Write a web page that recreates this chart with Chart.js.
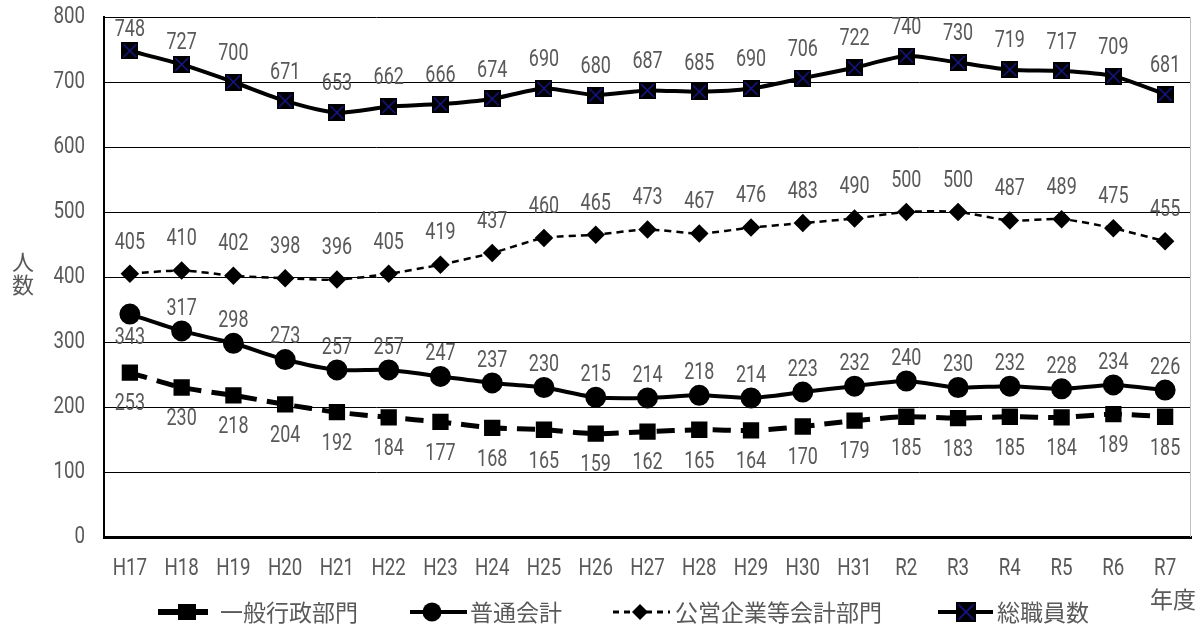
<!DOCTYPE html>
<html>
<head>
<meta charset="utf-8">
<script src="https://cdn.jsdelivr.net/npm/chart.js@4/dist/chart.umd.min.js"></script>
<style>
  html, body { margin: 0; padding: 0; background: #fff; }
  #wrap { width: 1204px; height: 628px; position: relative; }
</style>
</head>
<body>
<div id="wrap"><canvas id="chartArea" width="1204" height="628"></canvas></div>
<script>
var years = ['H17','H18','H19','H20','H21','H22','H23','H24','H25','H26','H27','H28','H29','H30','H31','R2','R3','R4','R5','R6','R7']
var ippan = [253,230,218,204,192,184,177,168,165,159,162,165,164,170,179,185,183,185,184,189,185]
var futsu = [343,317,298,273,257,257,247,237,230,215,214,218,214,223,232,240,230,232,228,234,226]
var koei = [405,410,402,398,396,405,419,437,460,465,473,467,476,483,490,500,500,487,489,475,455]
var total = [748,727,700,671,653,662,666,674,690,680,687,685,690,706,722,740,730,719,717,709,681]
var seriesNames = ['一般行政部門','普通会計','公営企業等会計部門','総職員数']
var yTicks = [0,100,200,300,400,500,600,700,800]

var jpFont = '"Noto Sans CJK JP", sans-serif'
var grey = '#595959'

// narrow text: no condensed font here, so squeeze Roboto sideways
function narrowText(ctx, text, x, y, size, align){
  ctx.save()
  ctx.font = size + 'px Roboto, sans-serif'
  ctx.fillStyle = grey
  ctx.textBaseline = 'middle'
  ctx.textAlign = align || 'center'
  ctx.translate(x, y)
  ctx.scale(0.78, 1)
  ctx.fillText(text, 0, 0)
  ctx.restore()
}

// square with navy cross used for 総職員数
function crossBox(size){
  var c = document.createElement('canvas')
  c.width = size; c.height = size
  var g = c.getContext('2d')
  g.fillStyle = '#000'
  g.fillRect(0, 0, size, size)
  g.strokeStyle = '#1a1a9a'
  g.lineWidth = 1.3
  g.beginPath()
  g.moveTo(2, 2); g.lineTo(size-2, size-2)
  g.moveTo(size-2, 2); g.lineTo(2, size-2)
  g.stroke()
  return c
}
var boxImg = crossBox(17)

// label offsets (px from point) per dataset
var labelOffsets = [32, -22, -31, -28]

var labelPlugin = {
  id: 'valueLabels',
  afterDatasetsDraw: function(chart){
    var ctx = chart.ctx
    chart.data.datasets.forEach(function(ds, di){
      var meta = chart.getDatasetMeta(di)
      meta.data.forEach(function(pt, i){
        var off = labelOffsets[di]
        if(di == 1 && i == 0) off = 24
        if(di == 3 && i < 2) off = -21
        narrowText(ctx, ds.data[i], pt.x, pt.y + off, 23)
      })
    })
  }
}

var framePlugin = {
  id: 'frameExtras',
  afterDraw: function(chart){
    var ctx = chart.ctx
    var a = chart.chartArea
    ctx.save()
    ctx.strokeStyle = '#bfbfbf'
    ctx.lineWidth = 1
    ctx.beginPath()
    ctx.moveTo(a.right - 0.5, a.top)
    ctx.lineTo(a.right - 0.5, a.bottom)
    ctx.stroke()

    // tick labels
    var ys = chart.scales.y
    yTicks.forEach(function(v){
      narrowText(ctx, v, 85, ys.getPixelForValue(v), 24, 'right')
    })
    var xs = chart.scales.x
    years.forEach(function(t, i){
      narrowText(ctx, t, xs.getPixelForTick(i), 569, 24)
    })

    // y title, stacked
    ctx.fillStyle = grey
    ctx.font = '22px ' + jpFont
    ctx.textAlign = 'center'
    ctx.textBaseline = 'middle'
    ctx.fillText('人', 23, 262)
    ctx.fillText('数', 23, 285)
    // x title
    ctx.font = '23px ' + jpFont
    ctx.fillText('年度', 1173, 599)

    // legend
    var items = [
      {x1: 158, x2: 208, cx: 187, text: 220, dash: [], lw: 6, style: 'sq'},
      {x1: 410, x2: 467, cx: 432, text: 470, dash: [], lw: 4, style: 'circle'},
      {x1: 613, x2: 670, cx: 640, text: 675, dash: [6, 5], lw: 3, style: 'diamond'},
      {x1: 938, x2: 993, cx: 966, text: 997, dash: [], lw: 4, style: 'box'}
    ]
    var ly = 612
    items.forEach(function(it, i){
      ctx.save()
      ctx.strokeStyle = '#000'
      ctx.fillStyle = '#000'
      ctx.lineWidth = it.lw
      ctx.setLineDash(it.dash)
      ctx.beginPath()
      ctx.moveTo(it.x1, ly); ctx.lineTo(it.x2, ly)
      ctx.stroke()
      ctx.setLineDash([])
      var cx = it.cx
      if(it.style == 'sq'){
        ctx.fillRect(cx - 9, ly - 8, 18, 16)
      } else if(it.style == 'circle'){
        ctx.beginPath(); ctx.arc(cx, ly, 9.5, 0, Math.PI * 2); ctx.fill()
      } else if(it.style == 'diamond'){
        ctx.beginPath()
        ctx.moveTo(cx, ly - 8); ctx.lineTo(cx + 8, ly); ctx.lineTo(cx, ly + 8); ctx.lineTo(cx - 8, ly)
        ctx.closePath(); ctx.fill()
      } else {
        ctx.drawImage(boxImg, cx - 10, ly - 10, 20, 20)
      }
      ctx.restore()
      ctx.fillStyle = grey
      ctx.textAlign = 'left'
      ctx.font = '23px ' + jpFont
      ctx.fillText(seriesNames[i], it.text, ly)
    })
    ctx.restore()
  }
}

var ctx = document.getElementById('chartArea').getContext('2d')
var myChart = new Chart(ctx, {
  type: 'line',
  data: {
    labels: years,
    datasets: [
      {
        label: seriesNames[0], data: ippan,
        borderColor: '#000', backgroundColor: '#000', borderWidth: 5,
        borderDash: [18, 10], pointStyle: 'rect', pointRadius: 8, tension: 0.25
      },
      {
        label: seriesNames[1], data: futsu,
        borderColor: '#000', backgroundColor: '#000', borderWidth: 4,
        pointStyle: 'circle', pointRadius: 8.5, tension: 0.25
      },
      {
        label: seriesNames[2], data: koei,
        borderColor: '#000', backgroundColor: '#000', borderWidth: 2.5,
        borderDash: [7, 5], pointStyle: 'rectRot', pointRadius: 7.5, tension: 0.25
      },
      {
        label: seriesNames[3], data: total,
        borderColor: '#000', backgroundColor: '#000', borderWidth: 4,
        pointStyle: boxImg, pointRadius: 9, tension: 0.25
      }
    ]
  },
  options: {
    responsive: false,
    animation: false,
    layout: { padding: { top: 17, right: 1, bottom: 50, left: 0 } },
    plugins: { legend: { display: false }, tooltip: { enabled: false } },
    scales: {
      x: {
        offset: true,
        grid: { display: false },
        border: { color: '#000', width: 3 },
        ticks: { color: 'rgba(0,0,0,0)', font: { size: 19 }, maxRotation: 0, autoSkip: false },
        afterFit: function(s){ s.height = 41 }
      },
      y: {
        min: 0, max: 800,
        afterBuildTicks: function(s){ s.ticks = yTicks.map(function(v){ return {value: v} }) },
        grid: { color: '#000', lineWidth: 1, drawTicks: false },
        border: { color: '#000', width: 2 },
        ticks: { color: 'rgba(0,0,0,0)', font: { size: 20 } },
        afterFit: function(s){ s.width = 104 }
      }
    }
  },
  plugins: [labelPlugin, framePlugin]
})
</script>
</body>
</html>
